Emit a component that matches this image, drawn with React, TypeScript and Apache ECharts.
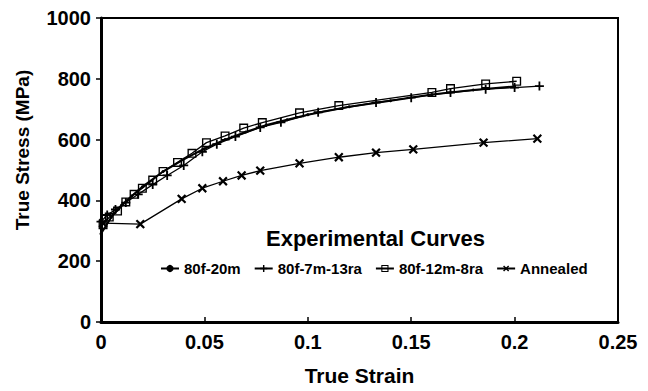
import React, { useEffect, useRef } from 'react';
import * as echarts from 'echarts';

const xTicks = [0, 0.05, 0.1, 0.15, 0.2, 0.25];
const yTicks = [0, 200, 400, 600, 800, 1000];

const seriesNames = ['80f-20m', '80f-7m-13ra', '80f-12m-8ra', 'Annealed'];

const s80f20m: [number, number][] = [
  [0, 290], [0.005, 345], [0.01, 385], [0.015, 415], [0.02, 445], [0.03, 495],
  [0.04, 535], [0.05, 570], [0.06, 600], [0.07, 625], [0.08, 648], [0.09, 665],
  [0.1, 682], [0.12, 708], [0.14, 728], [0.16, 748], [0.18, 763], [0.2, 775],
];

const s80f7m13ra: [number, number][] = [
  [0, 330], [0.003, 352], [0.007, 370], [0.012, 393], [0.018, 420], [0.025, 452],
  [0.032, 482], [0.04, 515], [0.049, 560], [0.056, 585], [0.065, 610], [0.077, 640],
  [0.087, 657], [0.105, 690], [0.133, 722], [0.15, 738], [0.169, 755], [0.186, 766],
  [0.2, 771], [0.212, 776],
];

const s80f12m8ra: [number, number][] = [
  [0.001, 320], [0.004, 345], [0.008, 365], [0.012, 395], [0.016, 420], [0.02, 440],
  [0.025, 467], [0.03, 495], [0.037, 525], [0.044, 555], [0.051, 590], [0.06, 612],
  [0.069, 638], [0.078, 656], [0.096, 688], [0.115, 712], [0.16, 755], [0.169, 768],
  [0.186, 783], [0.201, 792],
];

const sAnnealed: [number, number][] = [
  [0.001, 325], [0.019, 322], [0.039, 405], [0.049, 440], [0.059, 463], [0.068, 482],
  [0.077, 498], [0.096, 522], [0.115, 542], [0.133, 557], [0.151, 568], [0.185, 590],
  [0.211, 603],
];

const FONT = '"Liberation Sans", Arial, Helvetica, sans-serif';
const PLUS = 'path://M4,0H6V4H10V6H6V10H4V6H0V4H4Z';

export default function App() {
  const ref = useRef<HTMLDivElement>(null);
  useEffect(() => {
    if (!ref.current) return;
    const chart = echarts.init(ref.current, null, { renderer: 'svg' });
    chart.setOption({
      animation: false,
      backgroundColor: '#fff',
      title: {
        text: 'Experimental Curves',
        left: 261,
        top: 222,
        textStyle: { fontFamily: FONT, fontWeight: 'bold', fontSize: 22, color: '#000' },
      },
      legend: {
        left: 155,
        top: 256,
        data: seriesNames,
        itemWidth: 18,
        itemHeight: 9,
        itemGap: 13,
        textStyle: { fontFamily: FONT, fontWeight: 'bold', fontSize: 15, color: '#000' },
      },
      grid: {
        left: 101,
        top: 18,
        right: 30,
        bottom: 63,
        show: true,
        borderColor: '#000',
        borderWidth: 2,
        backgroundColor: 'transparent',
      },
      xAxis: {
        type: 'value',
        min: 0,
        max: 0.25,
        interval: 0.05,
        name: 'True Strain',
        nameLocation: 'middle',
        nameGap: 43,
        nameTextStyle: { fontFamily: FONT, fontWeight: 'bold', fontSize: 21, color: '#000' },
        axisLine: { show: true, lineStyle: { color: '#000', width: 3 } },
        axisTick: { show: true, inside: true, length: 5, lineStyle: { color: '#000', width: 1.5 } },
        splitLine: { show: false },
        axisLabel: {
          margin: 10,
          fontFamily: FONT,
          fontWeight: 'bold',
          fontSize: 20,
          color: '#000',
          formatter: (v: number) => {
            const t = xTicks.find((k) => Math.abs(k - v) < 1e-9);
            return String(t !== undefined ? t : v);
          },
        },
      },
      yAxis: {
        type: 'value',
        min: 0,
        max: 1000,
        interval: 200,
        axisLine: { show: true, lineStyle: { color: '#000', width: 3 } },
        axisTick: { show: true, inside: false, length: 5, lineStyle: { color: '#000', width: 1.5 } },
        splitLine: { show: false },
        axisLabel: {
          margin: 10,
          fontFamily: FONT,
          fontWeight: 'bold',
          fontSize: 20,
          color: '#000',
          formatter: (v: number) => {
            const t = yTicks.find((k) => Math.abs(k - v) < 1e-9);
            return String(t !== undefined ? t : v);
          },
        },
      },
      graphic: [
        {
          type: 'text',
          x: 22,
          y: 150,
          rotation: Math.PI / 2,
          style: {
            text: 'True Stress (MPa)',
            fontFamily: FONT,
            fontWeight: 'bold',
            fontSize: 19,
            fill: '#000',
            align: 'center',
            verticalAlign: 'middle',
          },
        },
      ],
      series: [
        {
          name: seriesNames[0],
          type: 'line',
          data: s80f20m,
          symbol: 'circle',
          symbolSize: 3,
          lineStyle: { color: '#000', width: 2 },
          itemStyle: { color: '#000' },
          z: 4,
        },
        {
          name: seriesNames[1],
          type: 'line',
          data: s80f7m13ra,
          symbol: PLUS,
          symbolSize: 9,
          lineStyle: { color: '#000', width: 1.3 },
          itemStyle: { color: '#000' },
          z: 3,
        },
        {
          name: seriesNames[2],
          type: 'line',
          data: s80f12m8ra,
          symbol: 'path://M0,0H10V10H0ZM1.5,1.5V8.5H8.5V1.5Z',
          symbolSize: 9,
          lineStyle: { color: '#000', width: 1.3 },
          itemStyle: { color: '#000' },
          z: 2,
        },
        {
          name: seriesNames[3],
          type: 'line',
          data: sAnnealed,
          symbol: PLUS,
          symbolSize: 11,
          symbolRotate: 45,
          lineStyle: { color: '#000', width: 1.3 },
          itemStyle: { color: '#000' },
          z: 2,
        },
      ],
    });
    return () => chart.dispose();
  }, []);
  return (
    <div
      ref={ref}
      style={{ position: 'fixed', left: 0, top: 0, width: 648, height: 391, background: '#fff' }}
    />
  );
}
